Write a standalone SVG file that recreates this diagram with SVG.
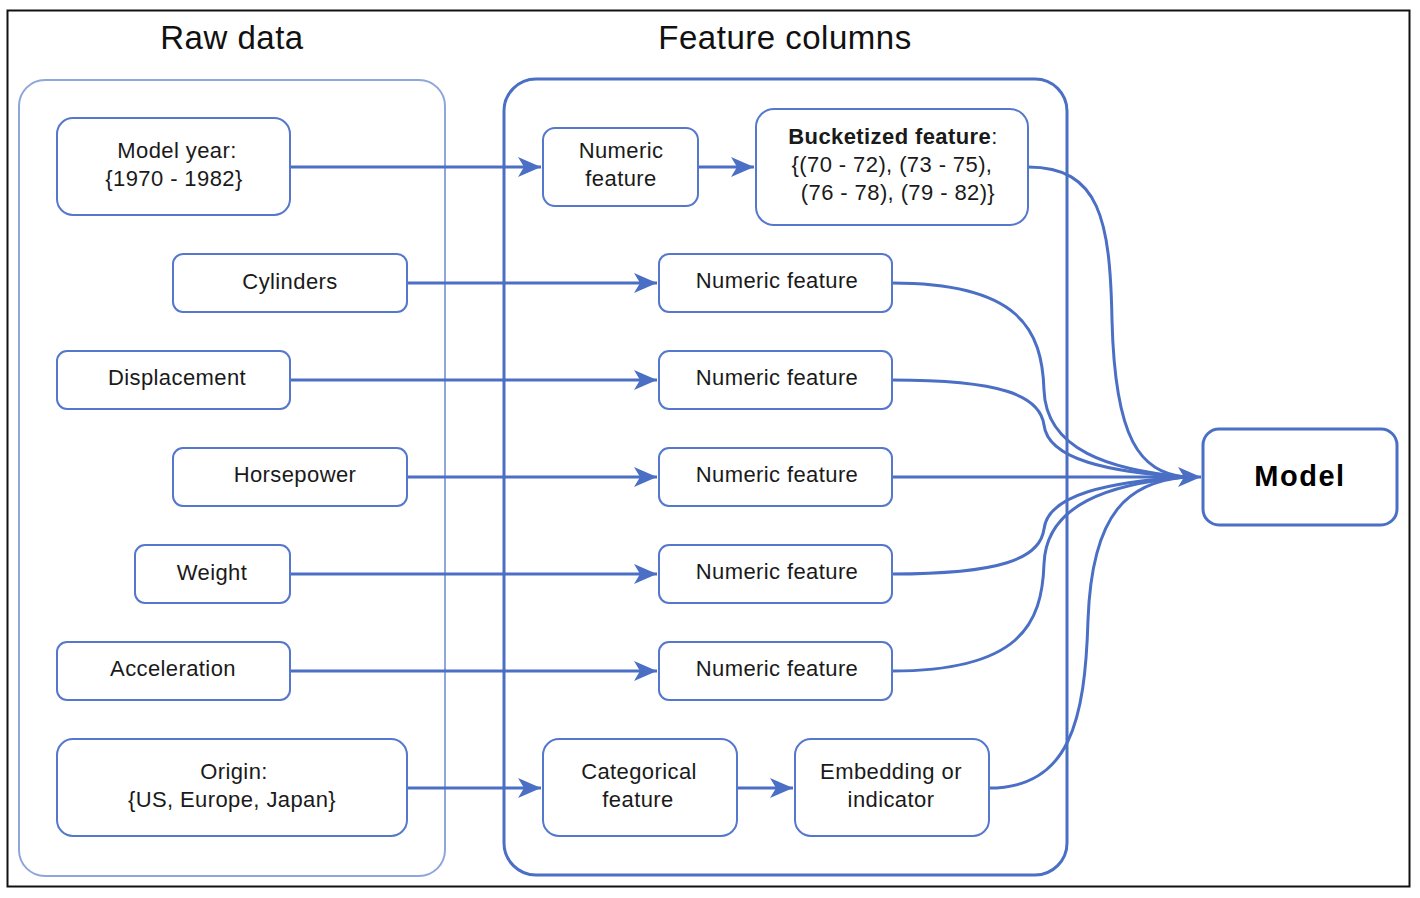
<svg xmlns="http://www.w3.org/2000/svg" width="1420" height="898" viewBox="0 0 1420 898">
<style>
.node{fill:#fff;stroke:#5577cc;stroke-width:2}
.t{font-family:"Liberation Sans",Arial,sans-serif;font-size:22px;letter-spacing:0.4px;fill:#1a1a1a;text-anchor:middle}
.h{font-family:"Liberation Sans",Arial,sans-serif;font-size:33px;letter-spacing:0.5px;fill:#111;text-anchor:middle}
.c{fill:none;stroke:#4a6fc4;stroke-width:3}
</style>
<defs>
<marker id="ah" markerUnits="userSpaceOnUse" markerWidth="26" markerHeight="22" refX="23" refY="10" orient="auto">
<path d="M0,0 L23,10 L0,20 L6,10 z" fill="#4a6fc4"/>
</marker>
</defs>
<rect x="0" y="0" width="1420" height="898" fill="#fff"/>
<rect x="7.5" y="10.5" width="1402" height="876" fill="none" stroke="#111" stroke-width="2"/>
<text class="h" x="232" y="49">Raw data</text>
<text class="h" x="785" y="49">Feature columns</text>
<g id="raw-data">
<rect x="19" y="80" width="426" height="796" rx="26" fill="none" stroke="#8ea6dc" stroke-width="2"/>
</g>
<g id="feature-columns">
<rect x="504" y="79" width="563" height="796" rx="32" fill="none" stroke="#4a6fc4" stroke-width="3"/>
</g>
<g id="connectors">
<path class="c" d="M290,167 L541,167" marker-end="url(#ah)"/>
<path class="c" d="M698,167 L754,167" marker-end="url(#ah)"/>
<path class="c" d="M407,283 L657,283" marker-end="url(#ah)"/>
<path class="c" d="M290,380 L657,380" marker-end="url(#ah)"/>
<path class="c" d="M407,477 L657,477" marker-end="url(#ah)"/>
<path class="c" d="M290,574 L657,574" marker-end="url(#ah)"/>
<path class="c" d="M290,671 L657,671" marker-end="url(#ah)"/>
<path class="c" d="M407,788 L541,788" marker-end="url(#ah)"/>
<path class="c" d="M737,788 L793,788" marker-end="url(#ah)"/>
<path class="c" d="M1028,167 C1100,167 1110,220 1112,320 C1115,440 1140,472 1185,477"/>
<path class="c" d="M892,283 C1020,283 1042,330 1044,390 C1046,450 1110,470 1185,477"/>
<path class="c" d="M892,380 C1000,380 1040,395 1044,425 C1048,460 1110,472 1185,477"/>
<path class="c" d="M892,477 L1201,477" marker-end="url(#ah)"/>
<path class="c" d="M892,574 C1000,574 1040,559 1044,529 C1048,494 1110,482 1185,477"/>
<path class="c" d="M892,671 C1020,671 1042,624 1044,564 C1046,504 1110,484 1185,477"/>
<path class="c" d="M989,788 C1070,788 1085,720 1088,620 C1092,510 1130,482 1185,477"/>
</g>
<g id="model-year"><rect class="node" x="57" y="118" width="233" height="97" rx="16"/>
<text class="t" x="177" y="158">Model year:</text><text class="t" x="174" y="186">{1970 - 1982}</text></g>
<g id="cylinders"><rect class="node" x="173" y="254" width="234" height="58" rx="10"/>
<text class="t" x="290" y="289">Cylinders</text></g>
<g id="displacement"><rect class="node" x="57" y="351" width="233" height="58" rx="10"/>
<text class="t" x="177" y="385">Displacement</text></g>
<g id="horsepower"><rect class="node" x="173" y="448" width="234" height="58" rx="10"/>
<text class="t" x="295" y="482">Horsepower</text></g>
<g id="weight"><rect class="node" x="135" y="545" width="155" height="58" rx="10"/>
<text class="t" x="212" y="580">Weight</text></g>
<g id="acceleration"><rect class="node" x="57" y="642" width="233" height="58" rx="10"/>
<text class="t" x="173" y="676">Acceleration</text></g>
<g id="origin"><rect class="node" x="57" y="739" width="350" height="97" rx="16"/>
<text class="t" x="234" y="779">Origin:</text><text class="t" x="232" y="807">{US, Europe, Japan}</text></g>
<g id="numeric-top"><rect class="node" x="543" y="128" width="155" height="78" rx="12"/>
<text class="t" x="621" y="158">Numeric</text><text class="t" x="621" y="186">feature</text></g>
<g id="bucketized"><rect class="node" x="756" y="109" width="272" height="116" rx="18"/>
<text class="t" x="893" y="144"><tspan font-weight="bold">Bucketized feature</tspan>:</text>
<text class="t" x="892" y="172">{(70 - 72), (73 - 75),</text>
<text class="t" x="898" y="200">(76 - 78), (79 - 82)}</text></g>
<g id="numeric-1"><rect class="node" x="659" y="254" width="233" height="58" rx="10"/>
<text class="t" x="777" y="288">Numeric feature</text></g>
<g id="numeric-2"><rect class="node" x="659" y="351" width="233" height="58" rx="10"/>
<text class="t" x="777" y="385">Numeric feature</text></g>
<g id="numeric-3"><rect class="node" x="659" y="448" width="233" height="58" rx="10"/>
<text class="t" x="777" y="482">Numeric feature</text></g>
<g id="numeric-4"><rect class="node" x="659" y="545" width="233" height="58" rx="10"/>
<text class="t" x="777" y="579">Numeric feature</text></g>
<g id="numeric-5"><rect class="node" x="659" y="642" width="233" height="58" rx="10"/>
<text class="t" x="777" y="676">Numeric feature</text></g>
<g id="categorical"><rect class="node" x="543" y="739" width="194" height="97" rx="16"/>
<text class="t" x="639" y="779">Categorical</text><text class="t" x="638" y="807">feature</text></g>
<g id="embedding"><rect class="node" x="795" y="739" width="194" height="97" rx="16"/>
<text class="t" x="891" y="779">Embedding or</text><text class="t" x="891" y="807">indicator</text></g>
<g id="model"><rect x="1203" y="429" width="194" height="96" rx="16" fill="#fff" stroke="#4a6fc4" stroke-width="3"/>
<text class="t" x="1300" y="486" style="font-size:29px;letter-spacing:1.5px;font-weight:bold;fill:#000">Model</text></g>
</svg>
